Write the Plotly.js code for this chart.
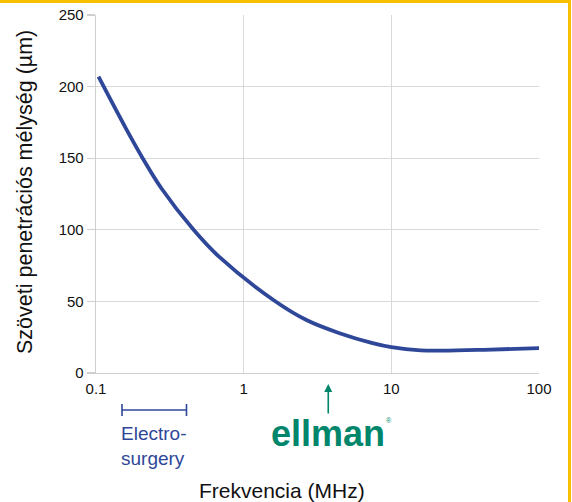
<!DOCTYPE html>
<html>
<head>
<meta charset="utf-8">
<script src="https://cdn.plot.ly/plotly-3.0.1.min.js"></script>
<style>
  html, body { margin: 0; padding: 0; background: #fff; }
  #wrap { position: relative; width: 572px; height: 502px; overflow: hidden; }
  #chart { position: absolute; left: 0; top: 0; width: 572px; height: 502px; }
  #btop { position: absolute; left: 0; top: 0; width: 571px; height: 3px; background: #f6c100; }
  #bright { position: absolute; left: 568px; top: 0; width: 3px; height: 502px; background: #f6c100; }
</style>
</head>
<body>
<div id="wrap">
  <div id="chart"></div>
  <div id="btop"></div>
  <div id="bright"></div>
</div>
<script>
// Frequency (MHz) and tissue penetration depth (µm)
const frequencyMHz = [0.104, 0.159, 0.207, 0.277, 0.458, 0.678, 1.59, 2.66, 4.46, 7.46, 10, 15.8, 22.3, 42.3, 100];
const depthUm      = [206.9, 171, 150, 129, 100, 81.4, 51, 37, 27.8, 20.9, 18.1, 15.8, 15.6, 16.2, 17.4];

const xTickVals = [0.1, 1, 10, 100];
const xTickText = ['0.1', '1', '10', '100'];
const yTickVals = [0, 50, 100, 150, 200, 250];

const electroRange = [0.15, 0.41];   // MHz (bracket)
const ellmanFreq = 3.74;             // MHz (arrow)

const xTitle = 'Frekvencia (MHz)';
const yTitle = 'Szöveti penetrációs mélység (µm)';
const electroText = 'Electro-<br>surgery';
const brandText = 'ellman';

const blue = '#2f4799';
const green = '#00866b';
const font = 'Liberation Sans, Arial, sans-serif';

const trace = {
  x: frequencyMHz, y: depthUm, type: 'scatter', mode: 'lines',
  line: { color: blue, width: 3.8, shape: 'spline', smoothing: 1 },
  hoverinfo: 'skip'
};

// Plot area pixel geometry (for paper-coordinate annotations)
const L = 96, R = 539, T = 15, B = 373;
const W = 572, H = 502;
const px = v => (v - L) / (R - L);
const py = v => (B - v) / (B - T);
const lx = f => (Math.log10(f) + 1) / 3;

const layout = {
  width: W, height: H,
  margin: { l: L, r: W - R, t: T, b: H - B, pad: 0 },
  paper_bgcolor: '#fff', plot_bgcolor: '#fff',
  showlegend: false,
  font: { family: font, size: 15, color: '#111' },
  xaxis: {
    type: 'log', range: [-1, 2],
    tickvals: xTickVals, ticktext: xTickText,
    showgrid: true, gridcolor: '#d9d9d9', gridwidth: 1.3,
    showline: true, linecolor: '#cfcfcf', linewidth: 1.3,
    ticks: '', ticklabelstandoff: 2,
    zeroline: false, fixedrange: true,
    tickfont: { family: font, size: 15, color: '#111' }
  },
  yaxis: {
    range: [0, 250], tickvals: yTickVals,
    showgrid: true, gridcolor: '#d9d9d9', gridwidth: 1.3,
    showline: true, linecolor: '#cfcfcf', linewidth: 1.3,
    ticks: 'outside', ticklen: 8, tickcolor: '#cfcfcf', tickwidth: 1.3,
    zeroline: false, fixedrange: true,
    tickfont: { family: font, size: 15, color: '#111' }
  },
  shapes: [
    { type: 'line', xref: 'paper', yref: 'paper', x0: lx(electroRange[0]), x1: lx(electroRange[1]), y0: py(410), y1: py(410), line: { color: blue, width: 1.6 } },
    { type: 'line', xref: 'paper', yref: 'paper', x0: lx(electroRange[0]), x1: lx(electroRange[0]), y0: py(404), y1: py(416), line: { color: blue, width: 1.6 } },
    { type: 'line', xref: 'paper', yref: 'paper', x0: lx(electroRange[1]), x1: lx(electroRange[1]), y0: py(404), y1: py(416), line: { color: blue, width: 1.6 } }
  ],
  annotations: [
    { xref: 'paper', yref: 'paper', x: lx(electroRange[0]) - 0.006, y: py(421), xanchor: 'left', yanchor: 'top',
      text: electroText, showarrow: false, align: 'left',
      font: { family: font, size: 19, color: blue } },
    { xref: 'paper', yref: 'paper', x: lx(ellmanFreq), y: py(384), ax: 0, ay: 31,
      text: '', showarrow: true, arrowhead: 2, arrowsize: 1, arrowwidth: 1.6, arrowcolor: green },
    { xref: 'paper', yref: 'paper', x: lx(ellmanFreq), y: py(433), xanchor: 'center', yanchor: 'middle',
      text: '<b>' + brandText + '</b>', showarrow: false, borderpad: 0,
      font: { family: font, size: 36, color: green } },
    { xref: 'paper', yref: 'paper', x: lx(ellmanFreq) + 57 / (R - L), y: py(420), xanchor: 'left', yanchor: 'middle',
      text: '®', showarrow: false, borderpad: 0, font: { family: font, size: 7, color: green } },
    { xref: 'paper', yref: 'paper', x: px(282), y: py(490), xanchor: 'center', yanchor: 'middle',
      text: xTitle, showarrow: false, font: { family: font, size: 21, color: '#111' } },
    { xref: 'paper', yref: 'paper', x: px(25), y: py(192), xanchor: 'center', yanchor: 'middle',
      text: yTitle, textangle: -90, showarrow: false, font: { family: font, size: 21.5, color: '#111' } }
  ]
};

Plotly.newPlot('chart', [trace], layout, { displayModeBar: false, staticPlot: true });
</script>
</body>
</html>
